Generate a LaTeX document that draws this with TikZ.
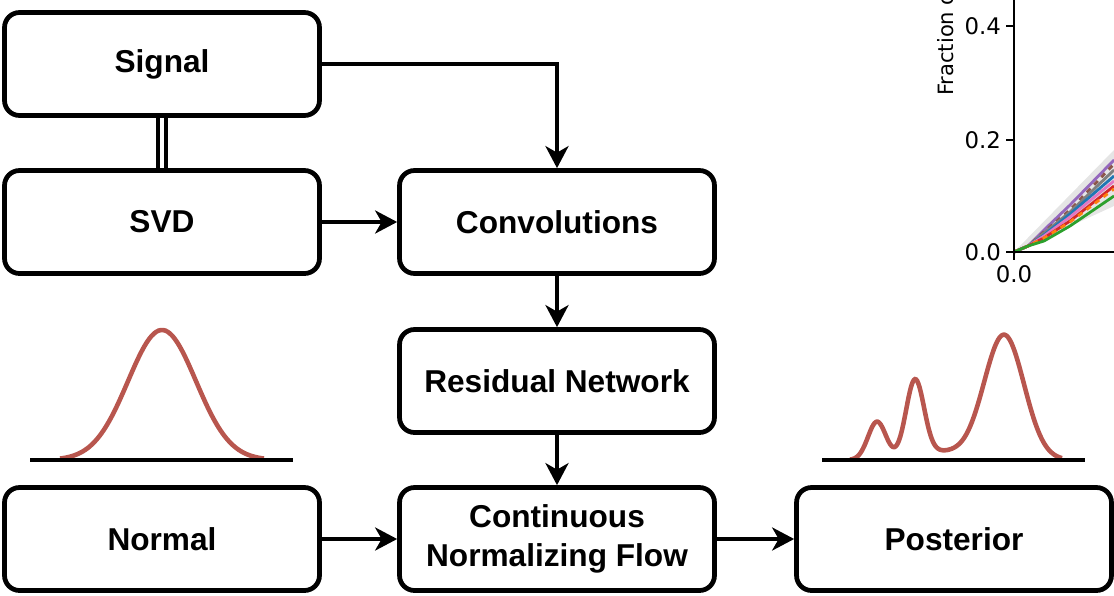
\documentclass[tikz,border=0pt]{standalone}
\usepackage{fontspec}
\setmainfont{Liberation Sans}
\newfontfamily\plotfont{DejaVu Sans}
\usetikzlibrary{arrows.meta}

\definecolor{pdfred}{RGB}{184,86,78}
\definecolor{tabblue}{RGB}{31,119,180}
\definecolor{taborange}{RGB}{255,127,14}
\definecolor{tabgreen}{RGB}{44,160,44}
\definecolor{tabred}{RGB}{214,39,40}
\definecolor{tabpurple}{RGB}{148,103,189}
\definecolor{tabbrown}{RGB}{140,86,75}
\definecolor{tabpink}{RGB}{227,119,194}
\definecolor{tabgray}{RGB}{127,127,127}

\begin{document}
\begin{tikzpicture}[x=0.02cm, y=-0.02cm,
    block/.style={draw, line width=2.7pt, rounded corners=0.3cm,
        minimum width=6.3cm, minimum height=2.06cm, align=center,
        font=\fontsize{18}{22}\selectfont\bfseries},
    flow/.style={line width=2.7pt, -{Stealth[length=0.44cm, width=0.46cm, inset=0.13cm]}},
    density/.style={draw=pdfred, line width=2.6pt},
    axisline/.style={line width=2.7pt},
    ticklabel/.style={font=\plotfont\fontsize{13}{15}\selectfont, inner sep=1pt}]
    \useasboundingbox (0,0) rectangle (1114,595);

    % Input stage nodes
    \node[block] (signal) at (162,64) {Signal};
    \node[block] (svd) at (162,222) {SVD};
    \draw[double, double distance=2.3pt, line width=2.5pt] (signal) -- (svd);

    % Feature stage nodes
    \node[block] (conv) at (557,222) {Convolutions};
    \draw[flow] (signal.east) -| (conv.north);
    \draw[flow] (svd) -- (conv);

    \node[block] (resnet) at (557,381) {Residual Network};
    \draw[flow] (conv) -- (resnet);

    % Flow stage nodes
    \node[block] (normal) at (162,539) {Normal};
    \node[block] (cnf) at (557,539) {Continuous\\Normalizing Flow};
    \node[block] (post) at (954,539) {Posterior};
    \draw[flow] (resnet) -- (cnf);
    \draw[flow] (normal) -- (cnf);
    \draw[flow] (cnf) -- (post);

    % Base density
    \draw[density] plot[domain=-102:102, samples=90, smooth]
        ({162+\x}, {460-130*exp(-((\x/34)^2)/2)});
    \draw[axisline] (30,460) -- (293,460);

    % Posterior density
    \draw[density] plot[domain=850:1062, samples=200, smooth]
        (\x, {460 - 38*exp(-(((\x-877)/9)^2)/2) - 76*exp(-(((\x-915)/9)^2)/2)
              - 125*exp(-(((\x-1004)/20)^2)/2) - 8*exp(-(((\x-940)/25)^2)/2)});
    \draw[axisline] (822,460) -- (1085,460);

    % Calibration plot, cut by the edge
    \begin{scope}
        \clip (0,0) rectangle (1114,595);
        \fill[gray!20] (1014,252) -- (1114,150) -- (1114,206) -- cycle;
        \foreach \c/\a/\m/\e/\s in {tabpurple/230/205/160/solid, tabbrown/232/210/164/dashed,
                tabgray/233/212/170/solid, tabblue/235/214/176/solid, tabpink/236/217/181/solid,
                tabred/238/221/186/solid, taborange/238/222/189/dashed, tabgreen/241/226/196/solid}
            \draw[\c, line width=1.6pt, \s] (1014,252) -- (1028,246) -- (1044,\a) -- (1070,\m) -- (1114,\e);
        \draw[line width=1.2pt] (1014,0) -- (1014,252) -- (1114,252);
        \foreach \y/\t [count=\i] in {26/0.4, 140/0.2, 252/0.0} {
            \draw[line width=1.2pt] (1006,\y) -- (1014,\y);
            \node[ticklabel, anchor=east] (ytick\i) at (1003,\y) {\t};
        }
        \draw[line width=1.2pt] (1014,252) -- (1014,260);
        \node[ticklabel, anchor=north] (xtick) at (1014,263) {0.0};
        \node[ticklabel, font=\plotfont\fontsize{12}{14}\selectfont, rotate=90, anchor=west]
            (ylabel) at (946,98) {Fraction o};
    \end{scope}
\end{tikzpicture}
\end{document}
